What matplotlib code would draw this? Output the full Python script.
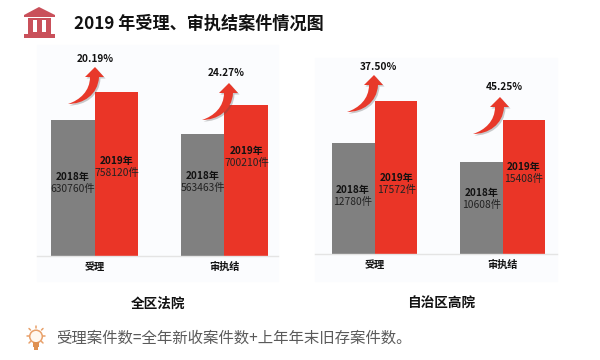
import matplotlib
matplotlib.use("Agg")
import matplotlib.pyplot as plt
from matplotlib.patches import Rectangle, PathPatch, Polygon, Circle
from matplotlib.path import Path

plt.rcParams['font.family'] = ['Noto Sans CJK SC', 'DejaVu Sans']

title = "2019 年受理、审执结案件情况图"
footnote = "受理案件数=全年新收案件数+上年年末旧存案件数。"
categories = ["受理", "审执结"]
years = ["2018年", "2019年"]
panel_names = ["全区法院", "自治区高院"]
all_2018 = [630760, 563463]
all_2019 = [758120, 700210]
high_2018 = [12780, 10608]
high_2019 = [17572, 15408]
all_growth = ["20.19%", "24.27%"]
high_growth = ["37.50%", "45.25%"]

W, H = 600, 360
GRAY, RED, PANEL = "#808080", "#ea3527", "#fbfcfe"
fig = plt.figure(figsize=(W / 100, H / 100), dpi=100, facecolor="white")

# pixel-space overlay for decoration and text
ov = fig.add_axes([0, 0, 1, 1], zorder=5)
ov.set_xlim(0, W); ov.set_ylim(H, 0); ov.axis("off"); ov.patch.set_alpha(0)

def panel(x0, x1, top, base, bottom, centers, bw, v18, v19, ymax, cats):
    fig.add_artist(Rectangle((x0 / W, 1 - bottom / H), (x1 - x0) / W, (bottom - top) / H,
                             transform=fig.transFigure, color=PANEL, zorder=0))
    ax = fig.add_axes([x0 / W, 1 - base / H, (x1 - x0) / W, (base - top) / H], zorder=2)
    ax.patch.set_alpha(0)
    spacing = centers[1] - centers[0]
    ax.set_xlim((x0 - centers[0]) / spacing, (x1 - centers[0]) / spacing)
    ax.set_ylim(0, ymax)
    w = bw / spacing
    pos = list(range(len(cats)))
    ax.bar([p - w / 2 for p in pos], v18, w, color=GRAY, linewidth=0)
    ax.bar([p + w / 2 for p in pos], v19, w, color=RED, linewidth=0)
    for s in ("top", "left", "right"):
        ax.spines[s].set_visible(False)
    ax.spines["bottom"].set_color("#e4e4e4")
    ax.spines["bottom"].set_linewidth(1)
    ax.set_yticks([])
    ax.set_xticks(pos, cats, fontsize=7.3, fontweight="bold", color="#111111")
    ax.tick_params(axis="x", length=0, pad=4)

panel(37, 278, 45, 256, 281, [94.5, 224.3], 43.3, all_2018, all_2019, 975600, categories)
panel(315, 557, 58, 254, 281, [374.5, 502.5], 42.5, high_2018, high_2019, 17572 * 196 / 153, categories)

# value labels
def vlabel(x, y, yr, val):
    ov.text(x, y, yr, ha="center", va="center", fontsize=7.2, fontweight="bold", color="#111111")
    ov.text(x, y + 12, f"{val}件", ha="center", va="center", fontsize=7.4, color="#222222")

vlabel(73, 177, years[0], all_2018[0])
vlabel(116.5, 161, years[1], all_2019[0])
vlabel(203, 176, years[0], all_2018[1])
vlabel(246.5, 151, years[1], all_2019[1])
vlabel(353, 190, years[0], high_2018[0])
vlabel(397, 178, years[1], high_2019[0])
vlabel(482, 193, years[0], high_2018[1])
vlabel(524, 167, years[1], high_2019[1])

# growth arrows (tip position in px)
def arrow(tx, ty):
    verts = [(0, 0), (9, 10), (4, 10), (3, 28), (-12, 37), (-27, 37),
             (-15, 33), (-5, 24), (-5, 10), (-10, 10), (0, 0)]
    codes = [Path.MOVETO, Path.LINETO, Path.LINETO, Path.CURVE4, Path.CURVE4, Path.CURVE4,
             Path.CURVE4, Path.CURVE4, Path.CURVE4, Path.LINETO, Path.CLOSEPOLY]
    ov.add_patch(PathPatch(Path([(tx + a + 1.5, ty + b + 1.5) for a, b in verts], codes),
                           fc="#555555", ec="none", alpha=0.3))
    ov.add_patch(PathPatch(Path([(tx + a, ty + b) for a, b in verts], codes),
                           fc="#e8392a", ec="none"))

arrow(95, 67); arrow(229, 83); arrow(374, 75); arrow(500, 97)
for (x, y), s in zip([(95, 59), (226.5, 72.5)], all_growth):
    ov.text(x, y, s, ha="center", va="center", fontsize=7.3, fontweight="bold", color="#111111")
for (x, y), s in zip([(378, 66.5), (504, 87.5)], high_growth):
    ov.text(x, y, s, ha="center", va="center", fontsize=7.3, fontweight="bold", color="#111111")

# headings
ov.text(74, 24, title, ha="left", va="center", fontsize=12.3, fontweight="bold", color="#111111")
ov.text(158, 304, panel_names[0], ha="center", va="center", fontsize=9.8, fontweight="bold", color="#111111")
ov.text(441, 304, panel_names[1], ha="center", va="center", fontsize=9.8, fontweight="bold", color="#111111")
ov.text(56, 338, footnote, ha="left", va="center", fontsize=11.1, color="#5a5a5a")

# bank icon
ic = "#c9505a"
ov.add_patch(Polygon([(39, 7), (55, 15), (55, 17), (24, 17), (24, 15)], closed=True, fc=ic, ec="none"))
ov.add_patch(Rectangle((28, 18), 23, 2, fc=ic, ec="none"))
for x in (28, 37, 46):
    ov.add_patch(Rectangle((x, 20), 5 if x != 37 else 4.5, 12, fc=ic, ec="none"))
for x in (33, 41.5):
    ov.add_patch(Rectangle((x, 21), 1.5, 11, fc="white", ec="none"))
ov.add_patch(Rectangle((28, 32), 23, 1.5, fc=ic, ec="none"))
ov.add_patch(Rectangle((24, 33.5), 31, 4, fc=ic, ec="none"))

# bulb icon
bc = "#e8a06a"
ov.add_patch(Circle((36, 336.5), 6.3, fc="#fff8f0", ec=bc, lw=1.1))
ov.add_patch(Rectangle((33, 342), 6, 5, fc="#df9050", ec="none"))
ov.add_patch(Rectangle((34, 347), 4, 2.5, fc="#df9050", ec="none"))
for (a, b, c, d) in [(36, 325.5, 36, 328), (29, 328.5, 30.5, 330), (43, 328.5, 41.5, 330),
                     (27, 336, 29, 336), (45, 336, 43, 336), (29, 343, 30.5, 341.5), (43, 343, 41.5, 341.5)]:
    ov.plot([a, c], [b, d], color=bc, lw=1.1, solid_capstyle="round")

fig.savefig("out.png", dpi=100)
